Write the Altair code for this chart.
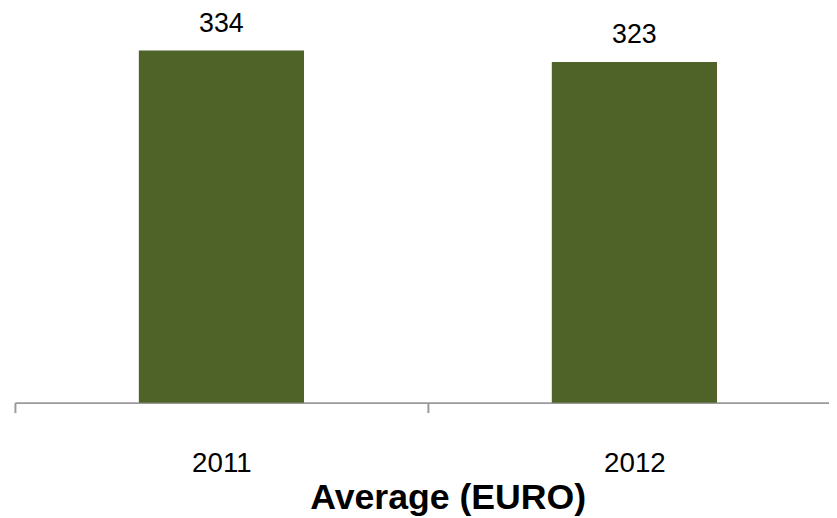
import altair as alt
import pandas as pd

years = ["2011", "2012"]
values = [334, 323]
axis_title = "Average (EURO)"

df = pd.DataFrame({"year": years, "value": values})

FONT = "Liberation Sans"

x_scale = alt.Scale(paddingInner=0, paddingOuter=0)
x_axis = alt.Axis(
    title=axis_title,
    labelAngle=0,
    tickBand="extent",
    domainColor="#9a9a9a",
    domainWidth=2,
    tickColor="#9a9a9a",
    tickWidth=2,
    tickSize=10,
    labelFont=FONT,
    labelFontSize=28,
    labelColor="#000000",
    labelPadding=38,
    titleFont=FONT,
    titleFontSize=36,
    titleFontWeight="bold",
    titleColor="#000000",
    titlePadding=3,
    titleX=437,
    titleAlign="center",
)
x_enc = alt.X("year:N", sort=years, scale=x_scale, axis=x_axis)
y_enc = alt.Y("value:Q", scale=alt.Scale(domain=[0, 372]), axis=None)

base = alt.Chart(df).encode(x=x_enc, y=y_enc)
bars = base.mark_bar(color="#4F6228", width=alt.RelativeBandSize(0.4))
labels = base.mark_text(
    baseline="alphabetic", dy=-19, font=FONT, fontSize=27, color="#000000"
).encode(text=alt.Text("value:Q"))

chart = (
    alt.layer(bars, labels)
    .properties(
        width=834,
        height=396,
        autosize=alt.AutoSizeParams(type="none"),
        padding={"left": 7, "top": 0, "right": -12, "bottom": 114},
    )
    .configure_view(stroke=None)
)

chart.save("out.html", embed_options={"renderer": "svg", "actions": False})
